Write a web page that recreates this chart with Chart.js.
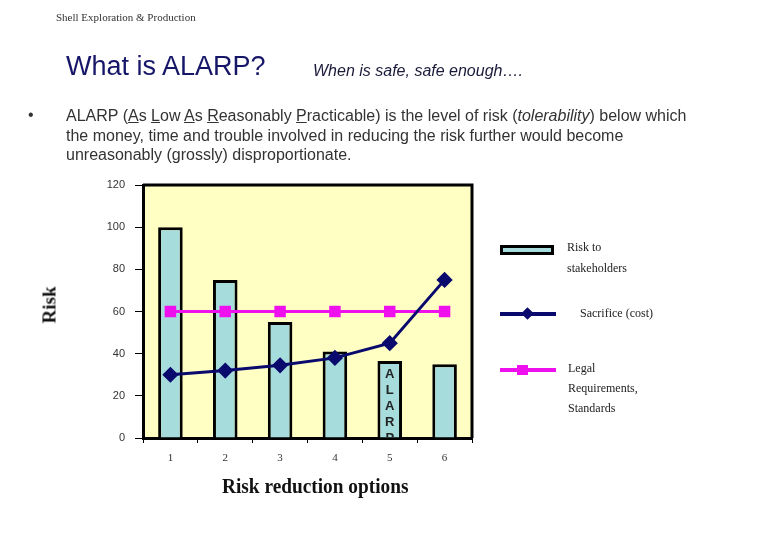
<!DOCTYPE html>
<html>
<head>
<meta charset="utf-8">
<script src="https://cdn.jsdelivr.net/npm/chart.js@4.4.1/dist/chart.umd.min.js"></script>
<style>
  body { margin: 0; background: #fff; }
  #wrap { position: relative; width: 780px; height: 540px; overflow: hidden; font-family: "Liberation Sans", Arial, sans-serif; }
  #myChart { position: absolute; left: 0; top: 0; }
  .txt { position: absolute; white-space: nowrap; }
  .serif { font-family: "Liberation Serif", "DejaVu Serif", serif; }
  .sw { position: absolute; }
</style>
</head>
<body>
<div id="wrap">
  <canvas id="myChart" width="780" height="540"></canvas>

  <div class="txt serif" style="left:56px; top:11px; font-size:11px; color:#333;">Shell Exploration &amp; Production</div>
  <div class="txt" style="left:66px; top:51px; font-size:27px; color:#161668;">What is ALARP?</div>
  <div class="txt" style="left:313px; top:62px; font-size:16px; font-style:italic; color:#1a1a3a;">When is safe, safe enough….</div>

  <div class="txt" style="left:28px; top:106px; font-size:16px; color:#333;">•</div>
  <div class="txt" style="left:66px; top:106px; font-size:16px; line-height:19.5px; color:#333;">
    ALARP (<u>A</u>s <u>L</u>ow <u>A</u>s <u>R</u>easonably <u>P</u>racticable) is the level of risk (<i>tolerability</i>) below which<br>
    the money, time and trouble involved in reducing the risk further would become<br>
    unreasonably (grossly) disproportionate.
  </div>

  <!-- axis titles -->
  <div class="txt serif" style="left:222px; top:474px; font-size:21px; font-weight:bold; color:#111; transform:scaleX(0.92); transform-origin:left center;">Risk reduction options</div>
  <div class="txt serif" style="left:31px; top:294px; font-size:19px; font-weight:bold; color:#111; transform:rotate(-90deg); transform-origin:center;">Risk</div>

  <!-- legend -->
  <div class="sw" style="left:500px; top:245px; width:48px; height:4px; background:#a6dcdc; border:3px solid #000;"></div>
  <div class="txt serif" style="left:567px; top:240px; font-size:12px; color:#222;">Risk to</div>
  <div class="txt serif" style="left:567px; top:261px; font-size:12px; color:#222;">stakeholders</div>

  <div class="sw" style="left:500px; top:312px; width:56px; height:4px; background:#0a0a6e;"></div>
  <div class="sw" style="left:523px; top:309px; width:9px; height:9px; background:#0a0a6e; transform:rotate(45deg);"></div>
  <div class="txt serif" style="left:580px; top:306px; font-size:12px; color:#222;">Sacrifice (cost)</div>

  <div class="sw" style="left:500px; top:368px; width:56px; height:4px; background:#ee11ee;"></div>
  <div class="sw" style="left:517px; top:365px; width:11px; height:10px; background:#ee11ee;"></div>
  <div class="txt serif" style="left:568px; top:361px; font-size:12px; color:#222;">Legal</div>
  <div class="txt serif" style="left:568px; top:381px; font-size:12px; color:#222;">Requirements,</div>
  <div class="txt serif" style="left:568px; top:401px; font-size:12px; color:#222;">Standards</div>
</div>

<script>
// Data
const options = ['1', '2', '3', '4', '5', '6'];
const riskToStakeholders = [100, 75, 55, 41, 36.5, 35];
const sacrificeCost = [30, 32, 34.5, 38, 45, 75];
const legalRequirements = [60, 60, 60, 60, 60, 60];
const yTicks = [0, 20, 40, 60, 80, 100, 120];
const alarpLetters = ['A', 'L', 'A', 'R', 'P'];
const alarpIndex = 4;

// Yellow plot background + box border + ALARP label in bar 5
const plotDecor = {
    id: 'plotDecor',
    beforeDraw: (chart) => {
        const {ctx, chartArea} = chart;
        ctx.save();
        ctx.fillStyle = '#ffffc4';
        ctx.fillRect(chartArea.left, chartArea.top, chartArea.right - chartArea.left, chartArea.bottom - chartArea.top);
        ctx.restore();
    },
    afterDatasetsDraw: (chart) => {
        const {ctx, chartArea} = chart;
        const bar = chart.getDatasetMeta(0).data[alarpIndex];
        ctx.save();
        ctx.beginPath();
        ctx.rect(chartArea.left, chartArea.top, chartArea.right - chartArea.left, chartArea.bottom - chartArea.top - 1);
        ctx.clip();
        ctx.fillStyle = '#222';
        ctx.font = 'bold 13px "Liberation Sans", Arial, sans-serif';
        ctx.textAlign = 'center';
        ctx.textBaseline = 'middle';
        alarpLetters.forEach((letter, i) => {
            ctx.fillText(letter, bar.x, bar.y + 13 + i * 16);
        });
        ctx.restore();

        // top and right edges of the plot box
        ctx.save();
        ctx.strokeStyle = '#000';
        ctx.lineWidth = 3;
        ctx.beginPath();
        ctx.moveTo(chartArea.left, chartArea.top);
        ctx.lineTo(chartArea.right, chartArea.top);
        ctx.lineTo(chartArea.right, chartArea.bottom);
        ctx.stroke();
        ctx.restore();
    }
};

var ctx = document.getElementById('myChart').getContext('2d');
var myChart = new Chart(ctx, {
    type: 'bar',
    data: {
        labels: options,
        datasets: [{
            label: 'Risk to stakeholders',
            data: riskToStakeholders,
            backgroundColor: '#a6dcdc',
            borderColor: '#000',
            borderWidth: 3,
            barPercentage: 0.56,
            categoryPercentage: 0.8,
            order: 2
        }, {
            label: 'Sacrifice (cost)',
            type: 'line',
            data: sacrificeCost,
            borderColor: '#0a0a6e',
            backgroundColor: '#0a0a6e',
            borderWidth: 3,
            pointStyle: 'rectRot',
            pointRadius: 6,
            pointHoverRadius: 6,
            order: 0
        }, {
            label: 'Legal Requirements, Standards',
            type: 'line',
            data: legalRequirements,
            borderColor: '#ee11ee',
            backgroundColor: '#ee11ee',
            borderWidth: 3,
            pointStyle: 'rect',
            pointRadius: 6,
            pointHoverRadius: 6,
            order: 1
        }]
    },
    options: {
        responsive: false,
        animation: false,
        layout: {
            padding: { left: 0, top: 185, right: 308, bottom: 62 }
        },
        plugins: {
            legend: { display: false },
            tooltip: { enabled: false }
        },
        scales: {
            x: {
                offset: true,
                afterFit: (scale) => { scale.height = 40; },
                grid: {
                    offset: true,
                    drawOnChartArea: false,
                    tickLength: 5,
                    tickColor: '#000',
                    tickWidth: 1
                },
                border: { color: '#000', width: 3 },
                ticks: {
                    padding: 9,
                    color: '#333',
                    font: { family: '"Liberation Serif", serif', size: 11 }
                }
            },
            y: {
                min: 0,
                max: 120,
                afterFit: (scale) => { scale.width = 143; },
                afterBuildTicks: (scale) => { scale.ticks = yTicks.map(v => ({value: v})); },
                grid: {
                    drawOnChartArea: false,
                    tickLength: 8,
                    tickColor: '#000',
                    tickWidth: 1
                },
                border: { color: '#000', width: 3 },
                ticks: {
                    padding: 10,
                    color: '#333',
                    font: { family: '"Liberation Sans", Arial, sans-serif', size: 11 }
                }
            }
        }
    },
    plugins: [plotDecor]
});
</script>
</body>
</html>
